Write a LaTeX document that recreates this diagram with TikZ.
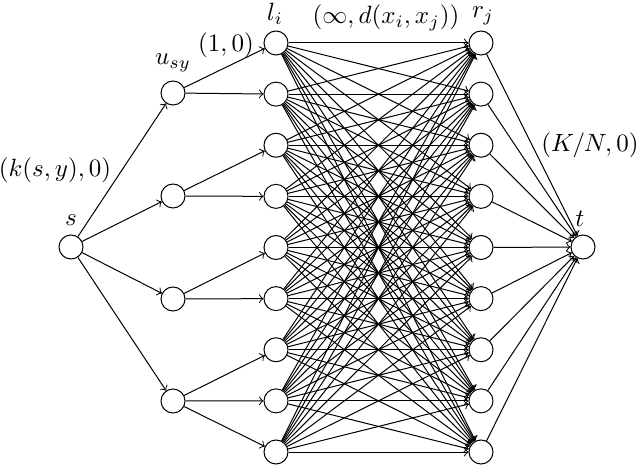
\documentclass[tikz,border=0pt]{standalone}
\begin{document}
\begin{tikzpicture}[x=0.4pt,y=-0.4pt,
  vert/.style={circle,draw,minimum size=9.6pt,inner sep=0pt},
  edge/.style={->},
  lbl/.style={inner sep=0pt}]
\useasboundingbox (0,0) rectangle (640,465);
\node[vert] (s) at (71,247) {};
\node[vert] (t) at (583,247) {};
\node[vert] (u1) at (173,93) {};
\node[vert] (u2) at (173,196) {};
\node[vert] (u3) at (173,299) {};
\node[vert] (u4) at (173,401) {};
\foreach \i in {1,...,9} {
  \node[vert] (l\i) at (276,{43+51.125*(\i-1)}) {};
  \node[vert] (r\i) at (481,{43+51.125*(\i-1)}) {};
}
\foreach \k in {1,...,4} \draw[edge] (s) -- (u\k);
\draw[edge] (u1) -- (l1);
\draw[edge] (u1) -- (l2);
\draw[edge] (u2) -- (l3);
\draw[edge] (u2) -- (l4);
\draw[edge] (u3) -- (l5);
\draw[edge] (u3) -- (l6);
\draw[edge] (u4) -- (l7);
\draw[edge] (u4) -- (l8);
\draw[edge] (u4) -- (l9);
\foreach \i in {1,...,9} {
  \foreach \j in {1,...,9} \draw[edge] (l\i) -- (r\j);
  \draw[edge] (r\i) -- (t);
}
\node[lbl] (ls) at (71,220) {$s$};
\node[lbl] (lt) at (580,219) {$t$};
\node[lbl] (lu) at (173,63) {$u_{sy}$};
\node[lbl] (ll) at (275,14) {$l_i$};
\node[lbl] (lr) at (483,16) {$r_j$};
\node[lbl] (c1) at (226,45) {$(1,0)$};
\node[lbl] (c2) at (55,170) {$(k(s,y),0)$};
\node[lbl] (c3) at (386,18) {$(\infty,d(x_i,x_j))$};
\node[lbl] (c4) at (590,145) {$(K/N,0)$};
\end{tikzpicture}
\end{document}
